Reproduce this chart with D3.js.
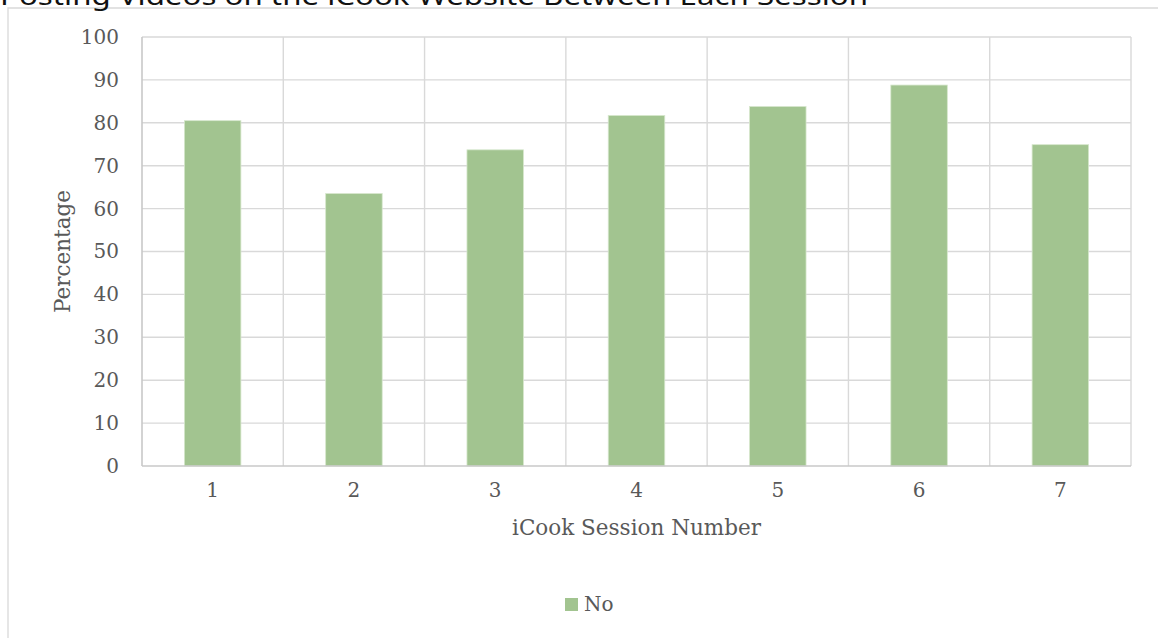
<!DOCTYPE html>
<html>
<head>
<meta charset="utf-8">
<script src="https://cdn.jsdelivr.net/npm/d3@7"></script>
<style>
  html, body { margin: 0; padding: 0; background: #fff; }
  svg { display: block; }
</style>
</head>
<body>
<svg id="chart" width="1158" height="638"></svg>
<script>
// Session numbers and share of "No" responses (%)
const sessions = ["1", "2", "3", "4", "5", "6", "7"];
const noValues = [80.5, 63.5, 73.7, 81.7, 83.8, 88.8, 74.9];
const yTicks = [0, 10, 20, 30, 40, 50, 60, 70, 80, 90, 100];
const seriesName = "No";
const titleText = "Posting Videos on the iCook Website Between Each Session";
const xTitle = "iCook Session Number";
const yTitle = "Percentage";

const svg = d3.select("#chart");
const W = 1158, H = 638;
const plot = { left: 142, right: 1131, top: 37, bottom: 466 };
const serif = "'DejaVu Serif', 'Liberation Serif', serif";
const textColor = "#595959";
const barColor = "#a2c490";
const gridColor = "#d9d9d9";

// outer chart frame (top and left edges are visible)
svg.append("path")
  .attr("d", `M8,${H} L8,8 L${W},8`)
  .attr("fill", "none")
  .attr("stroke", "#d9d9d9")
  .attr("stroke-width", 1.3);

// title, partly above the frame
svg.append("text")
  .attr("x", 0).attr("y", 5)
  .attr("font-family", "'Noto Sans', 'Liberation Sans', sans-serif")
  .attr("font-size", 25)
  .attr("fill", "#111")
  .attr("textLength", 868)
  .attr("lengthAdjust", "spacingAndGlyphs")
  .text(titleText);

const x = d3.scaleBand().domain(sessions).range([plot.left, plot.right]).paddingInner(0).paddingOuter(0);
const y = d3.scaleLinear().domain([0, 100]).range([plot.bottom, plot.top]);

// horizontal gridlines
svg.append("g").selectAll("line").data(yTicks.filter(d => d > 0)).join("line")
  .attr("x1", plot.left).attr("x2", plot.right)
  .attr("y1", d => y(d)).attr("y2", d => y(d))
  .attr("stroke", gridColor).attr("stroke-width", 1.4);

// vertical gridlines at category boundaries
const bounds = sessions.map(s => x(s)).concat([plot.right]);
svg.append("g").selectAll("line").data(bounds.slice(1)).join("line")
  .attr("x1", d => d).attr("x2", d => d)
  .attr("y1", plot.top).attr("y2", plot.bottom)
  .attr("stroke", gridColor).attr("stroke-width", 1.4);

// bars
const barW = x.bandwidth() * 0.4;
svg.append("g").selectAll("rect").data(noValues).join("rect")
  .attr("x", (d, i) => x(sessions[i]) + (x.bandwidth() - barW) / 2)
  .attr("y", d => y(d))
  .attr("width", barW)
  .attr("height", d => y(0) - y(d))
  .attr("fill", barColor)
  .attr("stroke", "#d6e7cd")
  .attr("stroke-width", 0.8);

// axis lines
svg.append("line")
  .attr("x1", plot.left).attr("x2", plot.left)
  .attr("y1", plot.top).attr("y2", plot.bottom)
  .attr("stroke", "#c8c8c8").attr("stroke-width", 1.6);
svg.append("line")
  .attr("x1", plot.left).attr("x2", plot.right)
  .attr("y1", plot.bottom).attr("y2", plot.bottom)
  .attr("stroke", "#c8c8c8").attr("stroke-width", 1.6);

// y tick labels
const yAxis = d3.axisLeft(y).tickValues(yTicks).tickSize(0).tickPadding(23);
const gy = svg.append("g").attr("transform", `translate(${plot.left},0)`).call(yAxis);
gy.select(".domain").remove();
gy.selectAll("text")
  .attr("font-family", serif).attr("font-size", 20).attr("fill", textColor);

// x tick labels
const xAxis = d3.axisBottom(x).tickSize(0).tickPadding(17);
const gx = svg.append("g").attr("transform", `translate(0,${plot.bottom})`).call(xAxis);
gx.select(".domain").remove();
gx.selectAll("text")
  .attr("font-family", serif).attr("font-size", 20).attr("fill", textColor);

// axis titles
svg.append("text")
  .attr("x", (plot.left + plot.right) / 2).attr("y", 535)
  .attr("text-anchor", "middle")
  .attr("font-family", serif).attr("font-size", 21.5).attr("fill", textColor)
  .text(xTitle);

svg.append("text")
  .attr("transform", `translate(70,${(plot.top + plot.bottom) / 2}) rotate(-90)`)
  .attr("text-anchor", "middle")
  .attr("font-family", serif).attr("font-size", 21.5).attr("fill", textColor)
  .text(yTitle);

// legend
const legend = svg.append("g");
legend.append("rect")
  .attr("x", 565).attr("y", 598).attr("width", 13).attr("height", 13)
  .attr("fill", barColor);
legend.append("text")
  .attr("x", 584).attr("y", 611)
  .attr("font-family", serif).attr("font-size", 20).attr("fill", textColor)
  .text(seriesName);
</script>
</body>
</html>
